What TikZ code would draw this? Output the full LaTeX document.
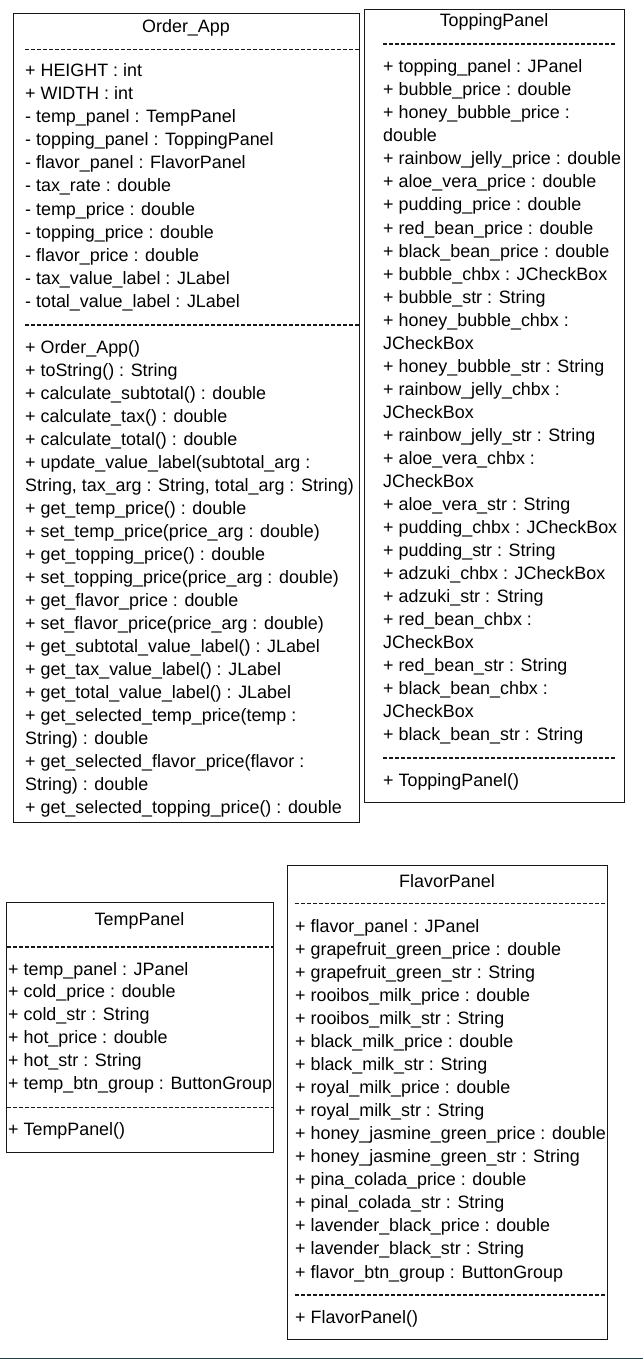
\documentclass[tikz,border=0pt]{standalone}
\usepackage{fontspec}
\setmainfont{Liberation Sans}
\newcommand{\umlfont}{\fontsize{17.9}{23}\selectfont}
\definecolor{barteal}{RGB}{30,62,64}

\begin{document}
\begin{tikzpicture}[x=1pt, y=-1pt,
  classbox/.style={draw=black!90, line width=1.3pt, anchor=north west, inner sep=0pt},
  classname/.style={font=\umlfont, anchor=base, inner sep=0pt},
  member/.style={font=\umlfont, anchor=base west, inner sep=0pt},
  divider/.style={draw=black!90, line width=1.3pt, dash pattern=on 4pt off 2pt}]
  \useasboundingbox (0,0) rectangle (643,1359);

  % Order_App
  \node[classbox, minimum width=346pt, minimum height=809pt] (orderapp) at (13,13) {};
  \node[classname] (orderapp-name) at (186,33) {Order\_App};
  \draw[divider] (25,49.5) -- (orderapp.east |- 0,49.5);
  \foreach \txt [count=\i from 0] in {
      + HEIGHT : int, + WIDTH : int, - temp\_panel : TempPanel,
      - topping\_panel : ToppingPanel, - flavor\_panel : FlavorPanel,
      - tax\_rate : double, - temp\_price : double, - topping\_price : double,
      - flavor\_price : double, - tax\_value\_label : JLabel,
      - total\_value\_label : JLabel}
    \node[member] (orderapp-a\i) at (25,{77+\i*23}) {\txt};
  \draw[divider] (25,325) -- (orderapp.east |- 0,325);
  \foreach \txt [count=\i from 0] in {
      + Order\_App(), + toString() : String, + calculate\_subtotal() : double,
      + calculate\_tax() : double, + calculate\_total() : double,
      + update\_value\_label(subtotal\_arg :,
      {String, tax\_arg : String, total\_arg : String)},
      + get\_temp\_price() : double, + set\_temp\_price(price\_arg : double),
      + get\_topping\_price() : double, + set\_topping\_price(price\_arg : double),
      + get\_flavor\_price : double, + set\_flavor\_price(price\_arg : double),
      + get\_subtotal\_value\_label() : JLabel, + get\_tax\_value\_label() : JLabel,
      + get\_total\_value\_label() : JLabel, + get\_selected\_temp\_price(temp :,
      String) : double, + get\_selected\_flavor\_price(flavor :,
      String) : double, + get\_selected\_topping\_price() : double}
    \node[member] (orderapp-m\i) at (25,{353+\i*23}) {\txt};

  % ToppingPanel
  \node[classbox, minimum width=260pt, minimum height=793pt] (topping) at (364,9) {};
  \node[classname] (topping-name) at (494,27) {ToppingPanel};
  \draw[divider] (383,44) -- (616,44);
  \foreach \txt [count=\i from 0] in {
      + topping\_panel : JPanel, + bubble\_price : double,
      + honey\_bubble\_price :, double, + rainbow\_jelly\_price : double,
      + aloe\_vera\_price : double, + pudding\_price : double,
      + red\_bean\_price : double, + black\_bean\_price : double,
      + bubble\_chbx : JCheckBox, + bubble\_str : String,
      + honey\_bubble\_chbx :, JCheckBox, + honey\_bubble\_str : String,
      + rainbow\_jelly\_chbx :, JCheckBox, + rainbow\_jelly\_str : String,
      + aloe\_vera\_chbx :, JCheckBox, + aloe\_vera\_str : String,
      + pudding\_chbx : JCheckBox, + pudding\_str : String,
      + adzuki\_chbx : JCheckBox, + adzuki\_str : String,
      + red\_bean\_chbx :, JCheckBox, + red\_bean\_str : String,
      + black\_bean\_chbx :, JCheckBox, + black\_bean\_str : String}
    \node[member] (topping-a\i) at (383,{73+\i*23}) {\txt};
  \draw[divider] (383,758) -- (616,758);
  \node[member] (topping-m0) at (383,786) {+ ToppingPanel()};

  % TempPanel
  \node[classbox, minimum width=267pt, minimum height=250pt] (temp) at (6,902) {};
  \node[classname] (temp-name) at (139.5,925) {TempPanel};
  \draw[divider] (7,947) -- (temp.east |- 0,947);
  \foreach \txt [count=\i from 0] in {
      + temp\_panel : JPanel, + cold\_price : double, + cold\_str : String,
      + hot\_price : double, + hot\_str : String,
      + temp\_btn\_group : ButtonGroup}
    \node[member] (temp-a\i) at (8,{975+\i*22.8}) {\txt};
  \draw[divider] (7,1107.5) -- (temp.east |- 0,1107.5);
  \node[member] (temp-m0) at (8,1135) {+ TempPanel()};

  % FlavorPanel
  \node[classbox, minimum width=320pt, minimum height=474pt] (flavor) at (287,865) {};
  \node[classname] (flavor-name) at (447,887) {FlavorPanel};
  \draw[divider] (295,903.5) -- (flavor.east |- 0,903.5);
  \foreach \txt [count=\i from 0] in {
      + flavor\_panel : JPanel, + grapefruit\_green\_price : double,
      + grapefruit\_green\_str : String, + rooibos\_milk\_price : double,
      + rooibos\_milk\_str : String, + black\_milk\_price : double,
      + black\_milk\_str : String, + royal\_milk\_price : double,
      + royal\_milk\_str : String, + honey\_jasmine\_green\_price : double,
      + honey\_jasmine\_green\_str : String, + pina\_colada\_price : double,
      + pinal\_colada\_str : String, + lavender\_black\_price : double,
      + lavender\_black\_str : String, + flavor\_btn\_group : ButtonGroup}
    \node[member] (flavor-a\i) at (295,{932+\i*23.07}) {\txt};
  \draw[divider] (295,1295) -- (flavor.east |- 0,1295);
  \node[member] (flavor-m0) at (295,1323) {+ FlavorPanel()};

  % strip along the lower edge
  \fill[barteal] (0,1357.5) rectangle (643,1359);
\end{tikzpicture}
\end{document}
